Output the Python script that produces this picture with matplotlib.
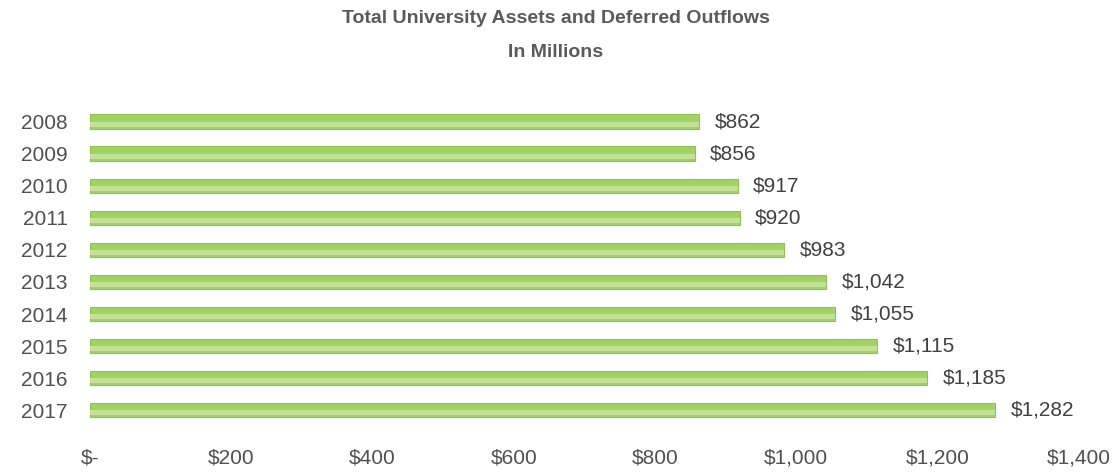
import matplotlib
matplotlib.use("Agg")
import matplotlib.pyplot as plt
from matplotlib.ticker import FuncFormatter

# Total assets and deferred outflows by year, in millions of dollars
years = ["2008", "2009", "2010", "2011", "2012", "2013", "2014", "2015", "2016", "2017"]
assets = [862, 856, 917, 920, 983, 1042, 1055, 1115, 1185, 1282]
x_ticks = [0, 200, 400, 600, 800, 1000, 1200, 1400]

plt.rcParams["font.family"] = ["Liberation Sans", "DejaVu Sans"]

fig = plt.figure(figsize=(11.12, 4.74), dpi=100)
ax = fig.add_axes([0.081, 0.094, 0.889, 0.69])

pos = list(range(len(years)))
ax.barh(pos, assets, height=0.45, color="#a3d164", edgecolor="#8fc253", linewidth=0.8)
# lighter strip along the lower half of each bar
ax.barh([p + 0.08 for p in pos], assets, height=0.16, color="#c2e296", linewidth=0)

for p, v in zip(pos, assets):
    ax.text(v + 22, p, "${:,}".format(v), va="center", ha="left",
            fontsize=15, color="#404040")

ax.set_xlim(0, 1400)
ax.set_ylim(len(years) - 0.4, -0.6)
ax.set_yticks(pos)
ax.set_yticklabels(years)
ax.set_xticks(x_ticks)
ax.xaxis.set_major_formatter(FuncFormatter(lambda v, _: "$-" if v == 0 else "${:,.0f}".format(v)))
ax.tick_params(axis="both", length=0, labelsize=15, labelcolor="#505050")
ax.tick_params(axis="x", pad=14)
ax.tick_params(axis="y", pad=16)
for s in ax.spines.values():
    s.set_visible(False)

fig.text(0.5, 0.962, "Total University Assets and Deferred Outflows", ha="center", va="center",
         fontsize=14, fontweight="bold", color="#5a5a5a")
fig.text(0.5, 0.89, "In Millions", ha="center", va="center",
         fontsize=14, fontweight="bold", color="#5a5a5a")

fig.savefig("out.png", dpi=100, facecolor="white")
